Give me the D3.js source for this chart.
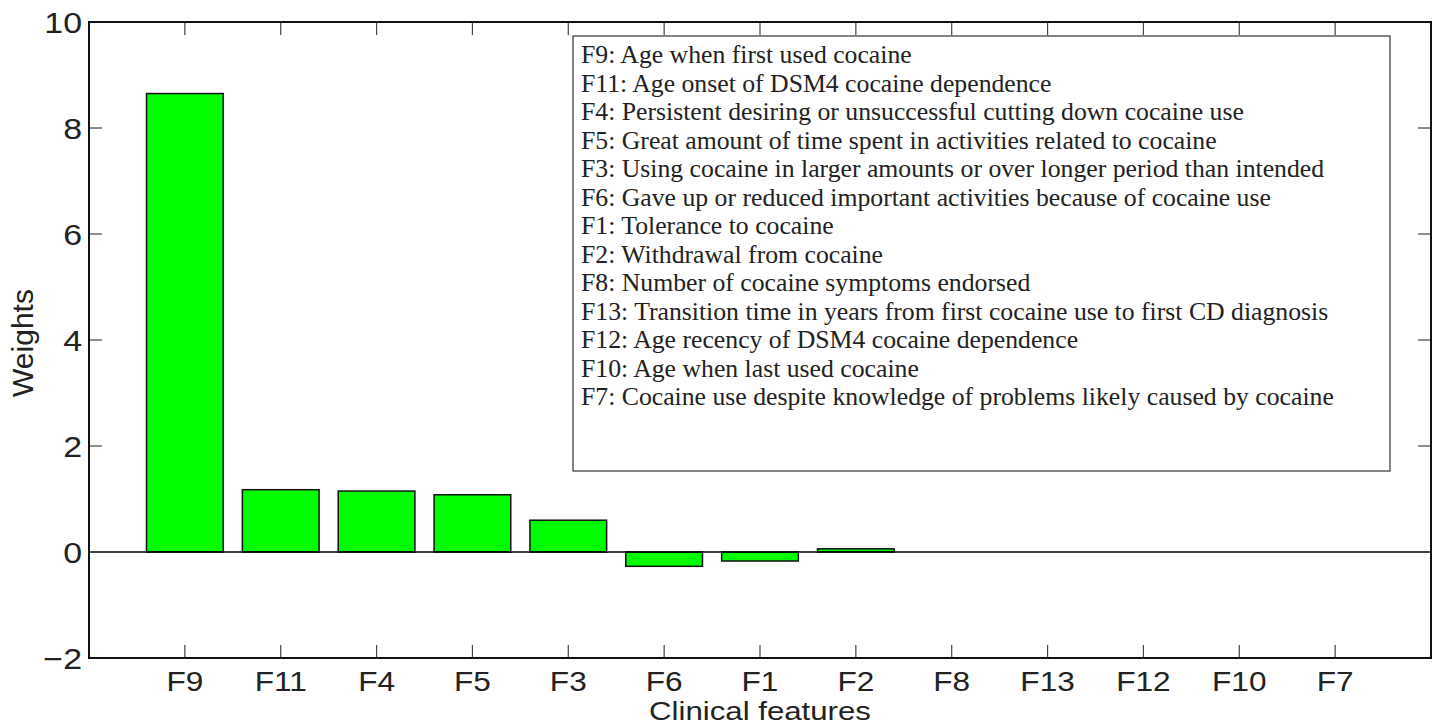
<!DOCTYPE html>
<html><head><meta charset="utf-8">
<script src="https://cdn.jsdelivr.net/npm/d3@7"></script>
<style>body{margin:0;background:#fff}svg{display:block}</style>
</head><body>
<svg id="c" width="1443" height="726"></svg>
<script>
const categories = ["F9","F11","F4","F5","F3","F6","F1","F2","F8","F13","F12","F10","F7"];
const weights = [8.65, 1.175, 1.15, 1.08, 0.60, -0.27, -0.17, 0.06, 0, 0, 0, 0, 0];
const yTicks = [-2, 0, 2, 4, 6, 8, 10];
const yTickLabels = ["\u22122","0","2","4","6","8","10"];
const legendLines = [
 "F9: Age when first used cocaine",
 "F11: Age onset of DSM4 cocaine dependence",
 "F4: Persistent desiring or unsuccessful cutting down cocaine use",
 "F5: Great amount of time spent in activities related to cocaine",
 "F3: Using cocaine in larger amounts or over longer period than intended",
 "F6: Gave up or reduced important activities because of cocaine use",
 "F1: Tolerance to cocaine",
 "F2: Withdrawal from cocaine",
 "F8: Number of cocaine symptoms endorsed",
 "F13: Transition time in years from first cocaine use to first CD diagnosis",
 "F12: Age recency of DSM4 cocaine dependence",
 "F10: Age when last used cocaine",
 "F7: Cocaine use despite knowledge of problems likely caused by cocaine"
];
const xLabel = "Clinical features", yLabel = "Weights";

const svg = d3.select("#c");
const L = 89, R = 1431, T = 22, B = 658;
const x = d3.scaleLinear().domain([0, categories.length + 1]).range([L, R]);
const y = d3.scaleLinear().domain([-2, 10]).range([B, T]);
const barW = (x(1) - x(0)) * 0.8;
const sx = 1.17;
const axFont = "'Liberation Sans', Arial, Helvetica, sans-serif";

// bars
svg.append("g").selectAll("rect").data(weights).join("rect")
  .attr("x", (d, i) => x(i + 1) - barW / 2)
  .attr("width", barW)
  .attr("y", d => y(Math.max(0, d)))
  .attr("height", d => Math.abs(y(d) - y(0)))
  .attr("fill", "#00ff00")
  .attr("stroke", d => d === 0 ? "#cccccc" : "#111")
  .attr("stroke-width", 1.5);

// zero line
svg.append("line").attr("x1", L).attr("x2", R).attr("y1", y(0)).attr("y2", y(0))
  .attr("stroke", "#000").attr("stroke-width", 1.5);

// ticks
const tk = 13;
const tg = svg.append("g").attr("stroke", "#444").attr("stroke-width", 1.2);
categories.forEach((c, i) => {
  const xx = x(i + 1);
  tg.append("line").attr("x1", xx).attr("x2", xx).attr("y1", B).attr("y2", B - tk);
  tg.append("line").attr("x1", xx).attr("x2", xx).attr("y1", T).attr("y2", T + tk);
});
yTicks.forEach(v => {
  tg.append("line").attr("x1", L).attr("x2", L + tk).attr("y1", y(v)).attr("y2", y(v));
  tg.append("line").attr("x1", R).attr("x2", R - tk).attr("y1", y(v)).attr("y2", y(v));
});

// frame
svg.append("rect").attr("x", L).attr("y", T).attr("width", R - L).attr("height", B - T)
  .attr("fill", "none").attr("stroke", "#111").attr("stroke-width", 2);

// x tick labels
categories.forEach((c, i) => {
  svg.append("text").attr("transform", `translate(${x(i + 1)},${B + 33}) scale(${sx},1)`)
    .attr("text-anchor", "middle").attr("font-family", axFont).attr("font-size", 27)
    .attr("fill", "#222").text(c);
});
// y tick labels
yTicks.forEach((v, i) => {
  svg.append("text").attr("transform", `translate(${L - 7},${y(v) + 11}) scale(${sx},1)`)
    .attr("text-anchor", "end").attr("font-family", axFont).attr("font-size", 29)
    .attr("fill", "#222").text(yTickLabels[i]);
});
// axis labels
svg.append("text").attr("transform", `translate(${(L + R) / 2},${720.3}) scale(1.2,1)`)
  .attr("text-anchor", "middle").attr("font-family", axFont).attr("font-size", 26)
  .attr("fill", "#222").text(xLabel);
svg.append("text").attr("transform", `translate(33,${(T + B) / 2 + 3}) rotate(-90)`)
  .attr("text-anchor", "middle").attr("font-family", axFont).attr("font-size", 30)
  .attr("fill", "#222").text(yLabel);

// legend box
svg.append("rect").attr("x", 573).attr("y", 36).attr("width", 817).attr("height", 435)
  .attr("fill", "#fff").attr("stroke", "#333").attr("stroke-width", 1.2);
const lg = svg.append("g");
const txts = legendLines.map((t, i) =>
  lg.append("text").attr("x", 0).attr("y", 0)
    .attr("font-family", "'Liberation Serif', 'Times New Roman', Times, serif").attr("font-size", 25)
    .attr("fill", "#222").text(t));
const wMax = txts[12].node().getComputedTextLength();
const lsx = 753 / wMax;
txts.forEach((t, i) => t.attr("transform", `translate(581,${63 + i * 28.5}) scale(${lsx},1)`));
</script>
</body></html>
